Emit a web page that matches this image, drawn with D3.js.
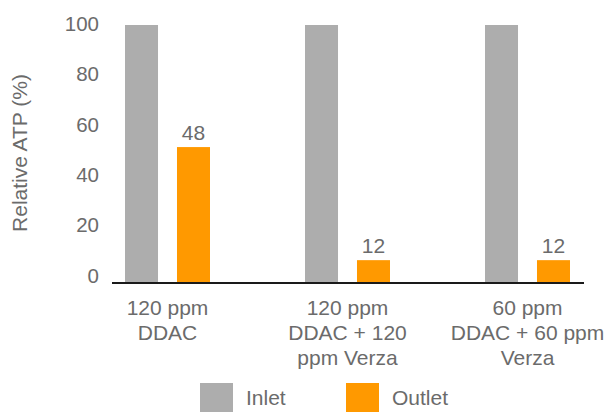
<!DOCTYPE html>
<html>
<head>
<meta charset="utf-8">
<script src="https://cdn.jsdelivr.net/npm/d3@7"></script>
<style>
  body { margin: 0; background: #fff; }
  text { font-family: "Liberation Sans", Arial, sans-serif; fill: #6b6b6b; }
</style>
</head>
<body>
<div id="chart"></div>
<script>
// chart data
var categories = [["120 ppm", "DDAC"], ["120 ppm", "DDAC + 120", "ppm Verza"], ["60 ppm", "DDAC + 60 ppm", "Verza"]];
var series = ["Inlet", "Outlet"];
var inletValues = [100, 100, 100];
var outletValues = [52.5, 8.5, 8.5];
var outletLabels = ["48", "12", "12"];
var yTicks = [0, 20, 40, 60, 80, 100];

var colors = { Inlet: "#adadad", Outlet: "#ff9900" };

var width = 607, height = 412,
    fs = "21px";

var svg = d3.select("#chart").append("svg")
    .attr("width", width)
    .attr("height", height);

var rows = categories.map(function(c, i) {
  return { cat: i, Inlet: inletValues[i], Outlet: outletValues[i], label: outletLabels[i] };
});

// scales
var x0 = d3.scaleBand()
    .domain(d3.range(categories.length))
    .range([77.5, 617.5]);

var x1 = d3.scaleBand()
    .domain(series)
    .range([47.5, 132.5])
    .paddingInner(0.365);

var y = d3.scaleLinear()
    .domain([0, 100])
    .range([282, 25]);

// y tick labels
var yAxis = d3.axisLeft(y)
    .tickValues(yTicks)
    .tickSize(0)
    .tickPadding(0);

var yG = svg.append("g")
    .attr("transform", "translate(99,0)")
    .call(yAxis);
yG.select(".domain").remove();
yG.selectAll("text")
    .attr("dy", function(d) { return (0.35 - (7 - d * 0.05) / 21) + "em"; })
    .style("font-size", "20.5px")
    .style("font-family", "Liberation Sans, Arial, sans-serif")
    .attr("fill", "#6b6b6b");

// axis title
svg.append("text")
    .attr("transform", "translate(27,153) rotate(-90)")
    .attr("text-anchor", "middle")
    .style("font-size", fs)
    .text("Relative ATP (%)");

// bars
var groups = svg.selectAll(".grp")
    .data(rows)
    .enter().append("g")
    .attr("class", "grp")
    .attr("transform", function(d) { return "translate(" + x0(d.cat) + ",0)"; });

groups.selectAll("rect")
    .data(function(d) { return series.map(function(k) { return { key: k, value: d[k] }; }); })
    .enter().append("rect")
    .attr("x", function(d) { return x1(d.key); })
    .attr("y", function(d) { return y(d.value); })
    .attr("width", x1.bandwidth())
    .attr("height", function(d) { return y(0) - y(d.value); })
    .attr("fill", function(d) { return colors[d.key]; });

// outlet value labels
groups.append("text")
    .attr("x", x1("Outlet") + x1.bandwidth() / 2)
    .attr("y", function(d) { return y(d.Outlet) - 7; })
    .attr("text-anchor", "middle")
    .style("font-size", fs)
    .text(function(d) { return d.label; });

// x axis line
svg.append("line")
    .attr("x1", 112).attr("x2", 584)
    .attr("y1", y(0) + 1).attr("y2", y(0) + 1)
    .attr("stroke", "#1a1a1a")
    .attr("stroke-width", 2);

// category labels
var catLabels = svg.selectAll(".cat")
    .data(categories)
    .enter().append("text")
    .attr("class", "cat")
    .attr("text-anchor", "middle")
    .style("font-size", fs)
    .attr("transform", function(d, i) { return "translate(" + (x0(i) + x0.bandwidth() / 2) + ",308)"; });

catLabels.selectAll("tspan")
    .data(function(d) { return d; })
    .enter().append("tspan")
    .attr("x", 0)
    .attr("y", function(d, i) { return i * 25; })
    .attr("dy", "0.35em")
    .text(function(d) { return d; });

// legend
var legendX = [200, 346];
var legend = svg.selectAll(".legend")
    .data(series)
    .enter().append("g")
    .attr("class", "legend")
    .attr("transform", function(d, i) { return "translate(" + legendX[i] + ",383)"; });

legend.append("rect")
    .attr("width", 33)
    .attr("height", 30)
    .attr("fill", function(d) { return colors[d]; });

legend.append("text")
    .attr("x", 46)
    .attr("y", 15)
    .attr("dy", "0.35em")
    .style("font-size", fs)
    .text(function(d) { return d; });
</script>
</body>
</html>
